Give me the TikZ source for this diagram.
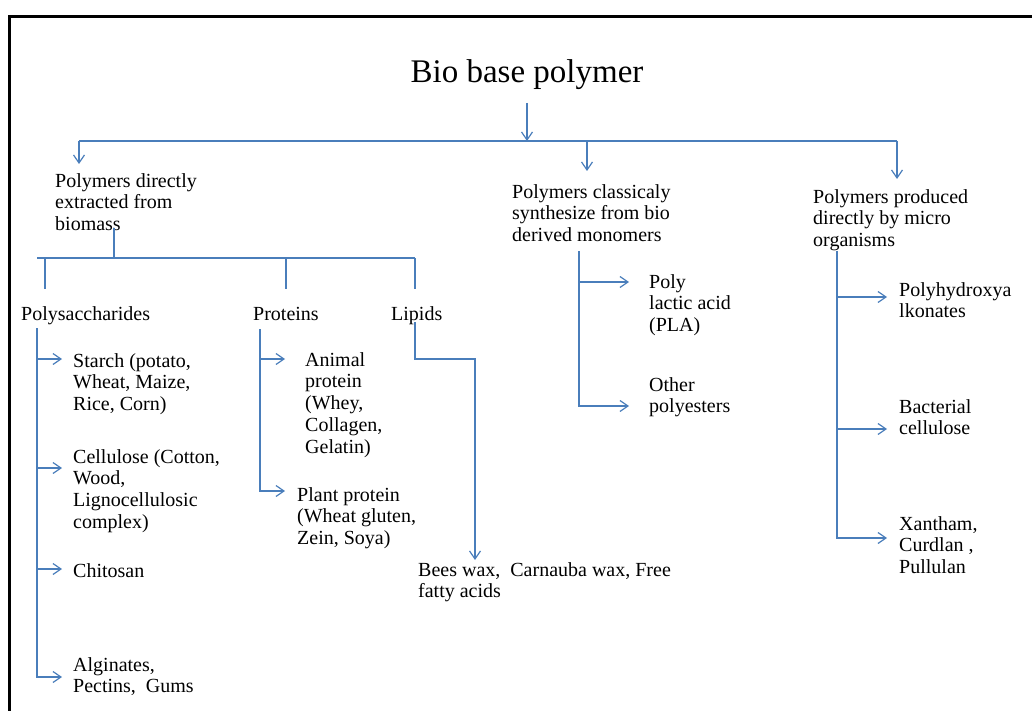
\documentclass[tikz,border=0pt]{standalone}
\usepackage{fontspec}
\setmainfont{Liberation Serif}
\usetikzlibrary{arrows.meta}
\definecolor{lineblue}{HTML}{4A7EBB}
\newcommand\fr{\rule{0pt}{15pt}}
\begin{document}
\begin{tikzpicture}[x=1pt,y=-1pt,
  txt/.style={anchor=north west, inner sep=0pt, align=left, text=black,
    font=\fontsize{20}{21.75}\selectfont},
  ln/.style={draw=lineblue, line width=1.2pt},
  arr/.style={ln, -{Straight Barb[length=8pt,width=11pt,line width=1.2pt]}}]
\useasboundingbox (0,0) rectangle (1032,711);
% frame (top and left edges)
\draw[line width=3pt] (9.5,711) -- (9.5,16.3) -- (1032,16.3);

% title
\node[anchor=base, inner sep=0pt, font=\fontsize{33}{40}\selectfont] (title) at (527,83) {Bio base polymer};

% level 1 texts
\node[txt] (dir) at (55,172) {\fr Polymers directly\\extracted from\\biomass};
\node[txt] (cls) at (512,183) {\fr Polymers classicaly\\synthesize from bio\\derived monomers};
\node[txt] (mic) at (813,188) {\fr Polymers produced\\directly by micro\\organisms};

% level 2 texts
\node[txt] (poly) at (21,305) {\fr Polysaccharides};
\node[txt] (prot) at (253,305) {\fr Proteins};
\node[txt] (lip) at (391,305) {\fr Lipids};

\node[txt] (starch) at (73,352) {\fr Starch (potato,\\Wheat, Maize,\\Rice, Corn)};
\node[txt] (cell) at (73,448) {\fr Cellulose (Cotton,\\Wood,\\Lignocellulosic\\complex)};
\node[txt] (chit) at (73,562) {\fr Chitosan};
\node[txt] (alg) at (73,656) {\fr Alginates,\\Pectins,\ \ Gums};

\node[txt] (anim) at (305,351) {\fr Animal\\protein\\(Whey,\\Collagen,\\Gelatin)};
\node[txt] (plant) at (297,486) {\fr Plant protein\\(Wheat gluten,\\Zein, Soya)};

\node[txt] (wax) at (418,561) {\fr Bees wax,\ \ Carnauba wax, Free\\fatty acids};

\node[txt] (pla) at (649,273) {\fr Poly\\lactic acid\\(PLA)};
\node[txt] (oth) at (649,376) {\fr Other\\polyesters};

\node[txt] (pha) at (899,281) {\fr Polyhydroxya\\lkonates};
\node[txt] (bac) at (899,398) {\fr Bacterial\\cellulose};
\node[txt] (xan) at (899,515) {\fr Xantham,\\Curdlan ,\\Pullulan};

% coordinates
\coordinate (tA) at (527,103);
\coordinate (jT) at (527,141);
\coordinate (jL) at (79,141);
\coordinate (jM) at (587,141);
\coordinate (jR) at (897,141);
\coordinate (tL) at (79,164);
\coordinate (tM) at (587,171);
\coordinate (tR) at (897,179);

\coordinate (dA) at (114,228);
\coordinate (dB) at (114,258);
\coordinate (hL) at (37,258);
\coordinate (hR) at (415,258);
\coordinate (p1) at (45,258);
\coordinate (p1e) at (45,289);
\coordinate (p2) at (286,258);
\coordinate (p2e) at (286,289);
\coordinate (p3e) at (415,289);

\coordinate (sT) at (37,328);
\coordinate (sA) at (37,359);
\coordinate (sAt) at (62,359);
\coordinate (sB) at (37,468);
\coordinate (sBt) at (62,468);
\coordinate (sC) at (37,569);
\coordinate (sCt) at (62,569);
\coordinate (sDt) at (62,677);

\coordinate (qT) at (260,329);
\coordinate (qA) at (260,359);
\coordinate (qAt) at (285,359);
\coordinate (qBt) at (285,491);

\coordinate (lT) at (415,322);
\coordinate (lA) at (415,359);
\coordinate (lB) at (475,359);
\coordinate (lBt) at (475,560);

\coordinate (mT) at (579,251);
\coordinate (mA) at (579,282);
\coordinate (mAt) at (629,282);
\coordinate (mBt) at (629,406);

\coordinate (rT) at (837,251);
\coordinate (rA) at (837,297);
\coordinate (rAt) at (887,297);
\coordinate (rB) at (837,429);
\coordinate (rBt) at (887,429);
\coordinate (rCt) at (887,538);

% top level connectors
\draw[arr] (tA) -- (jT);
\draw[ln] (jL) -- (jR);
\draw[arr] (jL) -- (tL);
\draw[arr] (jM) -- (tM);
\draw[arr] (jR) -- (tR);

% biomass branch
\draw[ln] (dA) -- (dB);
\draw[ln] (hL) -- (hR);
\draw[ln] (p1) -- (p1e);
\draw[ln] (p2) -- (p2e);
\draw[ln] (hR) -- (p3e);

% polysaccharides
\draw[arr] (sT) |- (sDt);
\draw[arr] (sA) -- (sAt);
\draw[arr] (sB) -- (sBt);
\draw[arr] (sC) -- (sCt);

% proteins
\draw[arr] (qT) |- (qBt);
\draw[arr] (qA) -- (qAt);

% lipids
\draw[arr] (lT) -- (lA) -- (lB) -- (lBt);

% classically synthesized
\draw[arr] (mT) |- (mBt);
\draw[arr] (mA) -- (mAt);

% micro organisms
\draw[arr] (rT) |- (rCt);
\draw[arr] (rA) -- (rAt);
\draw[arr] (rB) -- (rBt);
\end{tikzpicture}
\end{document}
